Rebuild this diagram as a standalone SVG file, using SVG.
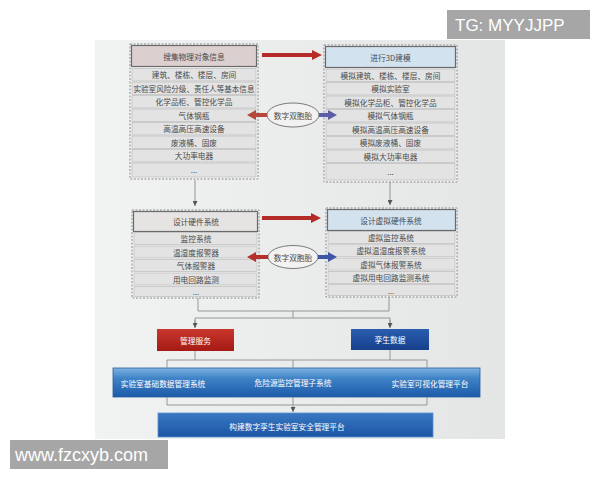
<svg xmlns="http://www.w3.org/2000/svg" width="600" height="480" viewBox="0 0 600 480">
<style>
.t{font-family:"Noto Sans CJK SC","Noto Sans",sans-serif;font-size:7.7px;fill:#4a4a4a;text-anchor:middle;dominant-baseline:central}
.w{font-family:"Noto Sans CJK SC","Noto Sans",sans-serif;font-size:7.7px;fill:#ffffff;text-anchor:middle;dominant-baseline:central}
.outer{fill:#f3f3f3;stroke:#8a8a8a;stroke-width:1;stroke-dasharray:2 1.5}
.row{fill:#e3e3e3;stroke:#b5b5b5;stroke-width:0.6}
.hdrL{fill:#dccfcf;stroke:#6a6a6a;stroke-width:1.2}
.hdrR{fill:#d3e2ef;stroke:#6a6a6a;stroke-width:1.2}
.hdrN{fill:#e6e4e2;stroke:#6a6a6a;stroke-width:1.2}
.ln{fill:none;stroke:#8c8c8c;stroke-width:0.9}
.ell{fill:#f2f2f2;stroke:#6c6c6c;stroke-width:0.9}
.wm{font-family:"Liberation Sans",Arial,sans-serif;fill:#ffffff}
</style>
<defs>
<linearGradient id="bg" x1="0" y1="0" x2="1" y2="0">
<stop offset="0" stop-color="#f1f2f2"/><stop offset="1" stop-color="#e4e5e5"/>
</linearGradient>
<linearGradient id="bar" x1="0" y1="0" x2="0" y2="1">
<stop offset="0" stop-color="#7fb2de"/><stop offset="0.35" stop-color="#3f83c7"/><stop offset="1" stop-color="#1d5ba8"/>
</linearGradient>
<linearGradient id="bar2" x1="0" y1="0" x2="0" y2="1">
<stop offset="0" stop-color="#3a78c2"/><stop offset="1" stop-color="#1b55a4"/>
</linearGradient>
<linearGradient id="red" x1="0" y1="0" x2="0" y2="1">
<stop offset="0" stop-color="#c8372c"/><stop offset="1" stop-color="#a51a15"/>
</linearGradient>
<linearGradient id="blue" x1="0" y1="0" x2="0" y2="1">
<stop offset="0" stop-color="#2a5eae"/><stop offset="1" stop-color="#173f8c"/>
</linearGradient>
<marker id="ah" viewBox="0 0 6 6" refX="6" refY="3" markerWidth="5" markerHeight="5" orient="auto" markerUnits="userSpaceOnUse">
<path d="M0,0 L6,3 L0,6 Z" fill="#555"/>
</marker>
</defs>

<rect x="95" y="40" width="410" height="399" fill="url(#bg)"/>

<g id="node-collect">
<rect class="outer" x="130" y="44" width="128" height="135"/>
<rect class="hdrL" x="131.5" y="45.5" width="125" height="21"/>
<text class="t" x="194" y="56">搜集物理对象信息</text>
<rect class="row" x="132" y="68.5" width="124" height="12.5"/>
<rect class="row" x="132" y="82" width="124" height="12.5"/>
<rect class="row" x="132" y="95.5" width="124" height="12.5"/>
<rect class="row" x="132" y="109" width="124" height="12.5"/>
<rect class="row" x="132" y="122.5" width="124" height="12.5"/>
<rect class="row" x="132" y="136" width="124" height="12.5"/>
<rect class="row" x="132" y="149.5" width="124" height="12.5"/>
<rect class="row" x="132" y="163" width="124" height="14"/>
<text class="t" x="194" y="74.75">建筑、楼栋、楼层、房间</text>
<text class="t" x="194" y="88.25" textLength="121" lengthAdjust="spacingAndGlyphs">实验室风险分级、责任人等基本信息</text>
<text class="t" x="194" y="101.75">化学品柜、管控化学品</text>
<text class="t" x="194" y="115.25">气体钢瓶</text>
<text class="t" x="194" y="128.75">高温高压高速设备</text>
<text class="t" x="194" y="142.25">废液桶、固废</text>
<text class="t" x="194" y="155.75">大功率电器</text>
<text class="t" x="194" y="169.5">...</text>
</g>

<g id="node-3d">
<rect class="outer" x="324" y="45" width="133" height="137"/>
<rect class="hdrR" x="325.5" y="46.5" width="130" height="21"/>
<text class="t" x="390.5" y="57">进行3D建模</text>
<rect class="row" x="326" y="69" width="129" height="12.5"/>
<rect class="row" x="326" y="82.5" width="129" height="12.5"/>
<rect class="row" x="326" y="96" width="129" height="12.5"/>
<rect class="row" x="326" y="109.5" width="129" height="12.5"/>
<rect class="row" x="326" y="123" width="129" height="12.5"/>
<rect class="row" x="326" y="136.5" width="129" height="12.5"/>
<rect class="row" x="326" y="150" width="129" height="12.5"/>
<rect class="row" x="326" y="163.5" width="129" height="16.5"/>
<text class="t" x="390.5" y="75.25">模拟建筑、楼栋、楼层、房间</text>
<text class="t" x="390.5" y="88.75">模拟实验室</text>
<text class="t" x="390.5" y="102.25">模拟化学品柜、管控化学品</text>
<text class="t" x="390.5" y="115.75">模拟气体钢瓶</text>
<text class="t" x="390.5" y="129.25">模拟高温高压高速设备</text>
<text class="t" x="390.5" y="142.75">模拟废液桶、固废</text>
<text class="t" x="390.5" y="156.25">模拟大功率电器</text>
<text class="t" x="390.5" y="171">...</text>
</g>

<g id="node-hw">
<rect class="outer" x="132" y="210" width="127" height="88"/>
<rect class="hdrN" x="133.5" y="211.5" width="124" height="20"/>
<text class="t" x="196" y="221.5">设计硬件系统</text>
<rect class="row" x="134" y="232.5" width="123" height="12"/>
<rect class="row" x="134" y="246" width="123" height="12"/>
<rect class="row" x="134" y="259.5" width="123" height="12"/>
<rect class="row" x="134" y="273" width="123" height="12"/>
<rect class="row" x="134" y="286.5" width="123" height="10"/>
<text class="t" x="196" y="238.5">监控系统</text>
<text class="t" x="196" y="252">温湿度报警器</text>
<text class="t" x="196" y="265.5">气体报警器</text>
<text class="t" x="196" y="279">用电回路监测</text>
<text class="t" x="196" y="291">...</text>
</g>

<g id="node-vhw">
<rect class="outer" x="326" y="208" width="131" height="89"/>
<rect class="hdrR" x="327.5" y="209.5" width="128" height="21"/>
<text class="t" x="391" y="220">设计虚拟硬件系统</text>
<rect class="row" x="328" y="231.5" width="127" height="12"/>
<rect class="row" x="328" y="244.8" width="127" height="12"/>
<rect class="row" x="328" y="258.1" width="127" height="12"/>
<rect class="row" x="328" y="271.4" width="127" height="12"/>
<rect class="row" x="328" y="284.7" width="127" height="11"/>
<text class="t" x="391" y="237.5">虚拟监控系统</text>
<text class="t" x="391" y="250.8">虚拟温湿度报警系统</text>
<text class="t" x="391" y="264.1">虚拟气体报警系统</text>
<text class="t" x="391" y="277.4">虚拟用电回路监测系统</text>
<text class="t" x="391" y="290">...</text>
</g>

<g id="node-twin1">
<ellipse class="ell" cx="293" cy="115" rx="26" ry="12"/>
<text class="t" x="293" y="115">数字双胞胎</text>
</g>
<g id="node-twin2">
<ellipse class="ell" cx="293" cy="257" rx="25" ry="11.5"/>
<text class="t" x="293" y="257">数字双胞胎</text>
</g>

<g id="node-mgmt">
<rect x="157" y="329" width="77" height="22" fill="url(#red)"/>
<text class="w" x="195.5" y="340">管理服务</text>
</g>
<g id="node-twindata">
<rect x="351" y="329" width="78" height="21" fill="url(#blue)"/>
<text class="w" x="390" y="339.5">孪生数据</text>
</g>

<g id="node-subsystems">
<rect x="113" y="368" width="367" height="29" fill="url(#bar)" stroke="#2a5f9f" stroke-width="0.8"/>
<text class="w" x="163" y="383.5">实验室基础数据管理系统</text>
<text class="w" x="293" y="382">危险源监控管理子系统</text>
<text class="w" x="430" y="383.5">实验室可视化管理平台</text>
</g>

<g id="node-platform">
<rect x="158" y="413" width="275" height="24" fill="url(#bar2)" stroke="#5a8fd0" stroke-width="0.8"/>
<text class="w" x="287" y="426">构建数字孪生实验室安全管理平台</text>
</g>

<g id="connectors">
<polygon points="262,53 312,53 312,50 322,55 312,60 312,57 262,57" fill="#b42b28"/>
<polygon points="262,216 311,216 311,213 321,218 311,223 311,220 262,220" fill="#b42b28"/>
<polygon points="267,113 256,113 256,110 247,115 256,120 256,117 267,117" fill="#b5473c"/>
<polygon points="319,113 328,113 328,110 337,115 328,120 328,117 319,117" fill="#5b5ea6"/>
<polygon points="268,255 256,255 256,252 247,257 256,262 256,259 268,259" fill="#b5302a"/>
<polygon points="318,255 328,255 328,252 337,257 328,262 328,259 318,259" fill="#3f55a6"/>
<line class="ln" x1="195" y1="180" x2="195" y2="206" marker-end="url(#ah)"/>
<line class="ln" x1="390" y1="182" x2="390" y2="205" marker-end="url(#ah)"/>
<polyline class="ln" points="198,298 198,311 389,311 389,297"/>
<line class="ln" x1="293" y1="311" x2="293" y2="318"/>
<polyline class="ln" points="195,327 195,318 390,318 390,327"/>
<line class="ln" x1="195" y1="320" x2="195" y2="328" marker-end="url(#ah)"/>
<line class="ln" x1="390" y1="320" x2="390" y2="328" marker-end="url(#ah)"/>
<line class="ln" x1="195" y1="351" x2="195" y2="360"/>
<line class="ln" x1="390" y1="350" x2="390" y2="360"/>
<polyline class="ln" points="167,368 167,360 427,360 427,368"/>
<line class="ln" x1="293" y1="360" x2="293" y2="368"/>
<polyline class="ln" points="167,397 167,405 427,405 427,397"/>
<line class="ln" x1="293" y1="397" x2="293" y2="412" marker-end="url(#ah)"/>
</g>

<g id="watermarks">
<rect x="447" y="10" width="143" height="29" fill="#a6a6a6"/>
<text class="wm" x="455" y="31" font-size="17">TG: MYYJJPP</text>
<rect x="10" y="440" width="158" height="29" fill="#a6a6a6"/>
<text class="wm" x="15" y="461" font-size="18">www.fzcxyb.com</text>
</g>
</svg>
